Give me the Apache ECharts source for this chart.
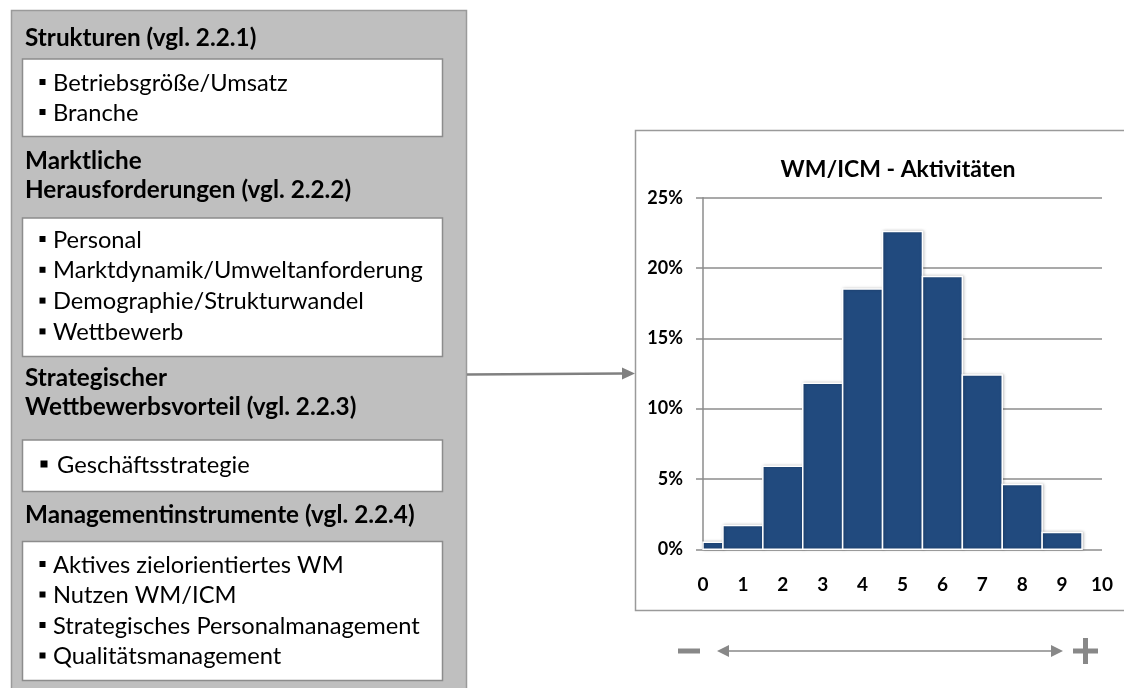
<!DOCTYPE html>
<html>
<head>
<meta charset="utf-8">
<script src="https://cdn.jsdelivr.net/npm/echarts@6/dist/echarts.min.js"></script>
<style>
  html, body { margin: 0; padding: 0; background: #fff; }
  #main { width: 1124px; height: 688px; }
</style>
</head>
<body>
<div id="main"></div>
<script>
// histogram: score 0..10, share of companies in %
const scores = [0, 1, 2, 3, 4, 5, 6, 7, 8, 9];
const shares = [0.5, 1.7, 5.9, 11.8, 18.5, 22.6, 19.4, 12.4, 4.6, 1.2];

const chartTitle = 'WM/ICM - Aktivitäten';

// left panel texts
const headStrukturen = ['Strukturen (vgl. 2.2.1)'];
const itemsStrukturen = ['Betriebsgröße/Umsatz', 'Branche'];
const headMarkt = ['Marktliche', 'Herausforderungen (vgl. 2.2.2)'];
const itemsMarkt = ['Personal', 'Marktdynamik/Umweltanforderung', 'Demographie/Strukturwandel', 'Wettbewerb'];
const headStrategie = ['Strategischer', 'Wettbewerbsvorteil (vgl. 2.2.3)'];
const itemsStrategie = ['Geschäftsstrategie'];
const headInstrumente = ['Managementinstrumente (vgl. 2.2.4)'];
const itemsInstrumente = ['Aktives zielorientiertes WM', 'Nutzen WM/ICM', 'Strategisches Personalmanagement', 'Qualitätsmanagement'];

const FONT = 'Lato, "Open Sans", sans-serif';
const GRAY = '#8c8c8c';

var chart = echarts.init(document.getElementById('main'), null, { renderer: 'canvas' });

// ---- left panel graphics ----
var g = [];
g.push({ type: 'rect', shape: { x: 11.5, y: 10.5, width: 455, height: 700 },
  style: { fill: '#bfbfbf', stroke: '#9a9a9a', lineWidth: 1.5 } });

function whiteBox(y0, y1) {
  g.push({ type: 'rect', shape: { x: 22.5, y: y0, width: 420, height: y1 - y0 },
    style: { fill: '#fff', stroke: GRAY, lineWidth: 1.5 } });
}
function heads(lines, y0, step) {
  lines.forEach(function (t, i) {
    g.push({ type: 'text', style: { text: t, x: 25, y: y0 + i * step, font: 'bold 24.3px ' + FONT,
      fill: '#000', textVerticalAlign: 'middle' } });
  });
}
function items(lines, y0, step, big) {
  lines.forEach(function (t, i) {
    var y = y0 + i * step;
    var s = big ? 7 : 6;
    g.push({ type: 'rect', shape: { x: big ? 40.5 : 39.5, y: y - s / 2 - 1, width: s, height: s },
      style: { fill: '#000' } });
    g.push({ type: 'text', style: { text: t, x: big ? 57 : 53, y: y, font: '23.7px ' + FONT,
      fill: '#000', textVerticalAlign: 'middle' } });
  });
}

heads(headStrukturen, 38, 28.5);
whiteBox(59, 136.5);
items(itemsStrukturen, 83, 30);

heads(headMarkt, 161.5, 28.5);
whiteBox(218, 356.5);
items(itemsMarkt, 240, 30.8);

heads(headStrategie, 378.5, 28.5);
whiteBox(440, 491.5);
items(itemsStrategie, 465, 30, true);

heads(headInstrumente, 515, 28.5);
whiteBox(541.5, 680.5);
items(itemsInstrumente, 565, 30.5);

// connector arrow
g.push({ type: 'line', shape: { x1: 467, y1: 374.5, x2: 623, y2: 373.5 },
  style: { stroke: '#808080', lineWidth: 2.5 } });
g.push({ type: 'polygon', shape: { points: [[622, 367.5], [635, 373.5], [622, 379.5]] },
  style: { fill: '#808080' } });

// chart frame
g.push({ type: 'rect', shape: { x: 635.5, y: 130.5, width: 520, height: 480 },
  style: { fill: 'none', stroke: '#9a9a9a', lineWidth: 1.5 } });

// title
g.push({ type: 'text', style: { text: chartTitle, x: 898, y: 170, font: 'bold 23px ' + FONT,
  fill: '#000', textAlign: 'center', textVerticalAlign: 'middle' } });

// minus / plus with double arrow
g.push({ type: 'rect', shape: { x: 678, y: 648.5, width: 22, height: 5 }, style: { fill: '#888' } });
g.push({ type: 'line', shape: { x1: 724, y1: 651, x2: 1056, y2: 651 },
  style: { stroke: '#888', lineWidth: 1.5 } });
g.push({ type: 'polygon', shape: { points: [[717, 651], [729, 645], [729, 657]] }, style: { fill: '#888' } });
g.push({ type: 'polygon', shape: { points: [[1063, 651], [1051, 645], [1051, 657]] }, style: { fill: '#888' } });
g.push({ type: 'rect', shape: { x: 1073, y: 648.5, width: 25, height: 5 }, style: { fill: '#888' } });
g.push({ type: 'rect', shape: { x: 1083, y: 638, width: 5, height: 26 }, style: { fill: '#888' } });

function renderBar(params, api) {
  var x = api.value(0);
  var v = api.value(1);
  var p0 = api.coord([Math.max(x - 0.5, 0), v]);
  var p1 = api.coord([x + 0.5, 0]);
  return {
    type: 'rect',
    shape: { x: p0[0], y: p0[1], width: p1[0] - p0[0], height: p1[1] - p0[1] },
    style: { fill: '#214a7e', stroke: '#fff', lineWidth: 1.5,
      shadowBlur: 3, shadowColor: 'rgba(0,0,0,0.25)', shadowOffsetX: 1, shadowOffsetY: 0 }
  };
}

var option = {
  animation: false,
  backgroundColor: '#fff',
  graphic: { elements: g },
  grid: { left: 703, right: 22, top: 197.7, bottom: 138.7, containLabel: false },
  xAxis: {
    type: 'value', min: 0, max: 10, interval: 1,
    axisLine: { show: false }, axisTick: { show: false }, splitLine: { show: false },
    axisLabel: { color: '#000', fontFamily: FONT, fontWeight: 'bold', fontSize: 19, margin: 26 }
  },
  yAxis: {
    type: 'value', min: 0, max: 25, interval: 5,
    axisLine: { show: true, lineStyle: { color: GRAY, width: 1.5 } },
    axisTick: { show: true, length: 7, lineStyle: { color: GRAY, width: 1.5 } },
    splitLine: { show: true, lineStyle: { color: GRAY, width: 1.5 } },
    axisLabel: { color: '#000', fontFamily: FONT, fontWeight: 'bold', fontSize: 18, margin: 20,
      formatter: '{value}%' }
  },
  series: [{
    type: 'custom',
    renderItem: renderBar,
    data: scores.map(function (s, i) { return [s, shares[i]]; }),
    z: 3
  }]
};
chart.setOption(option);
</script>
</body>
</html>
